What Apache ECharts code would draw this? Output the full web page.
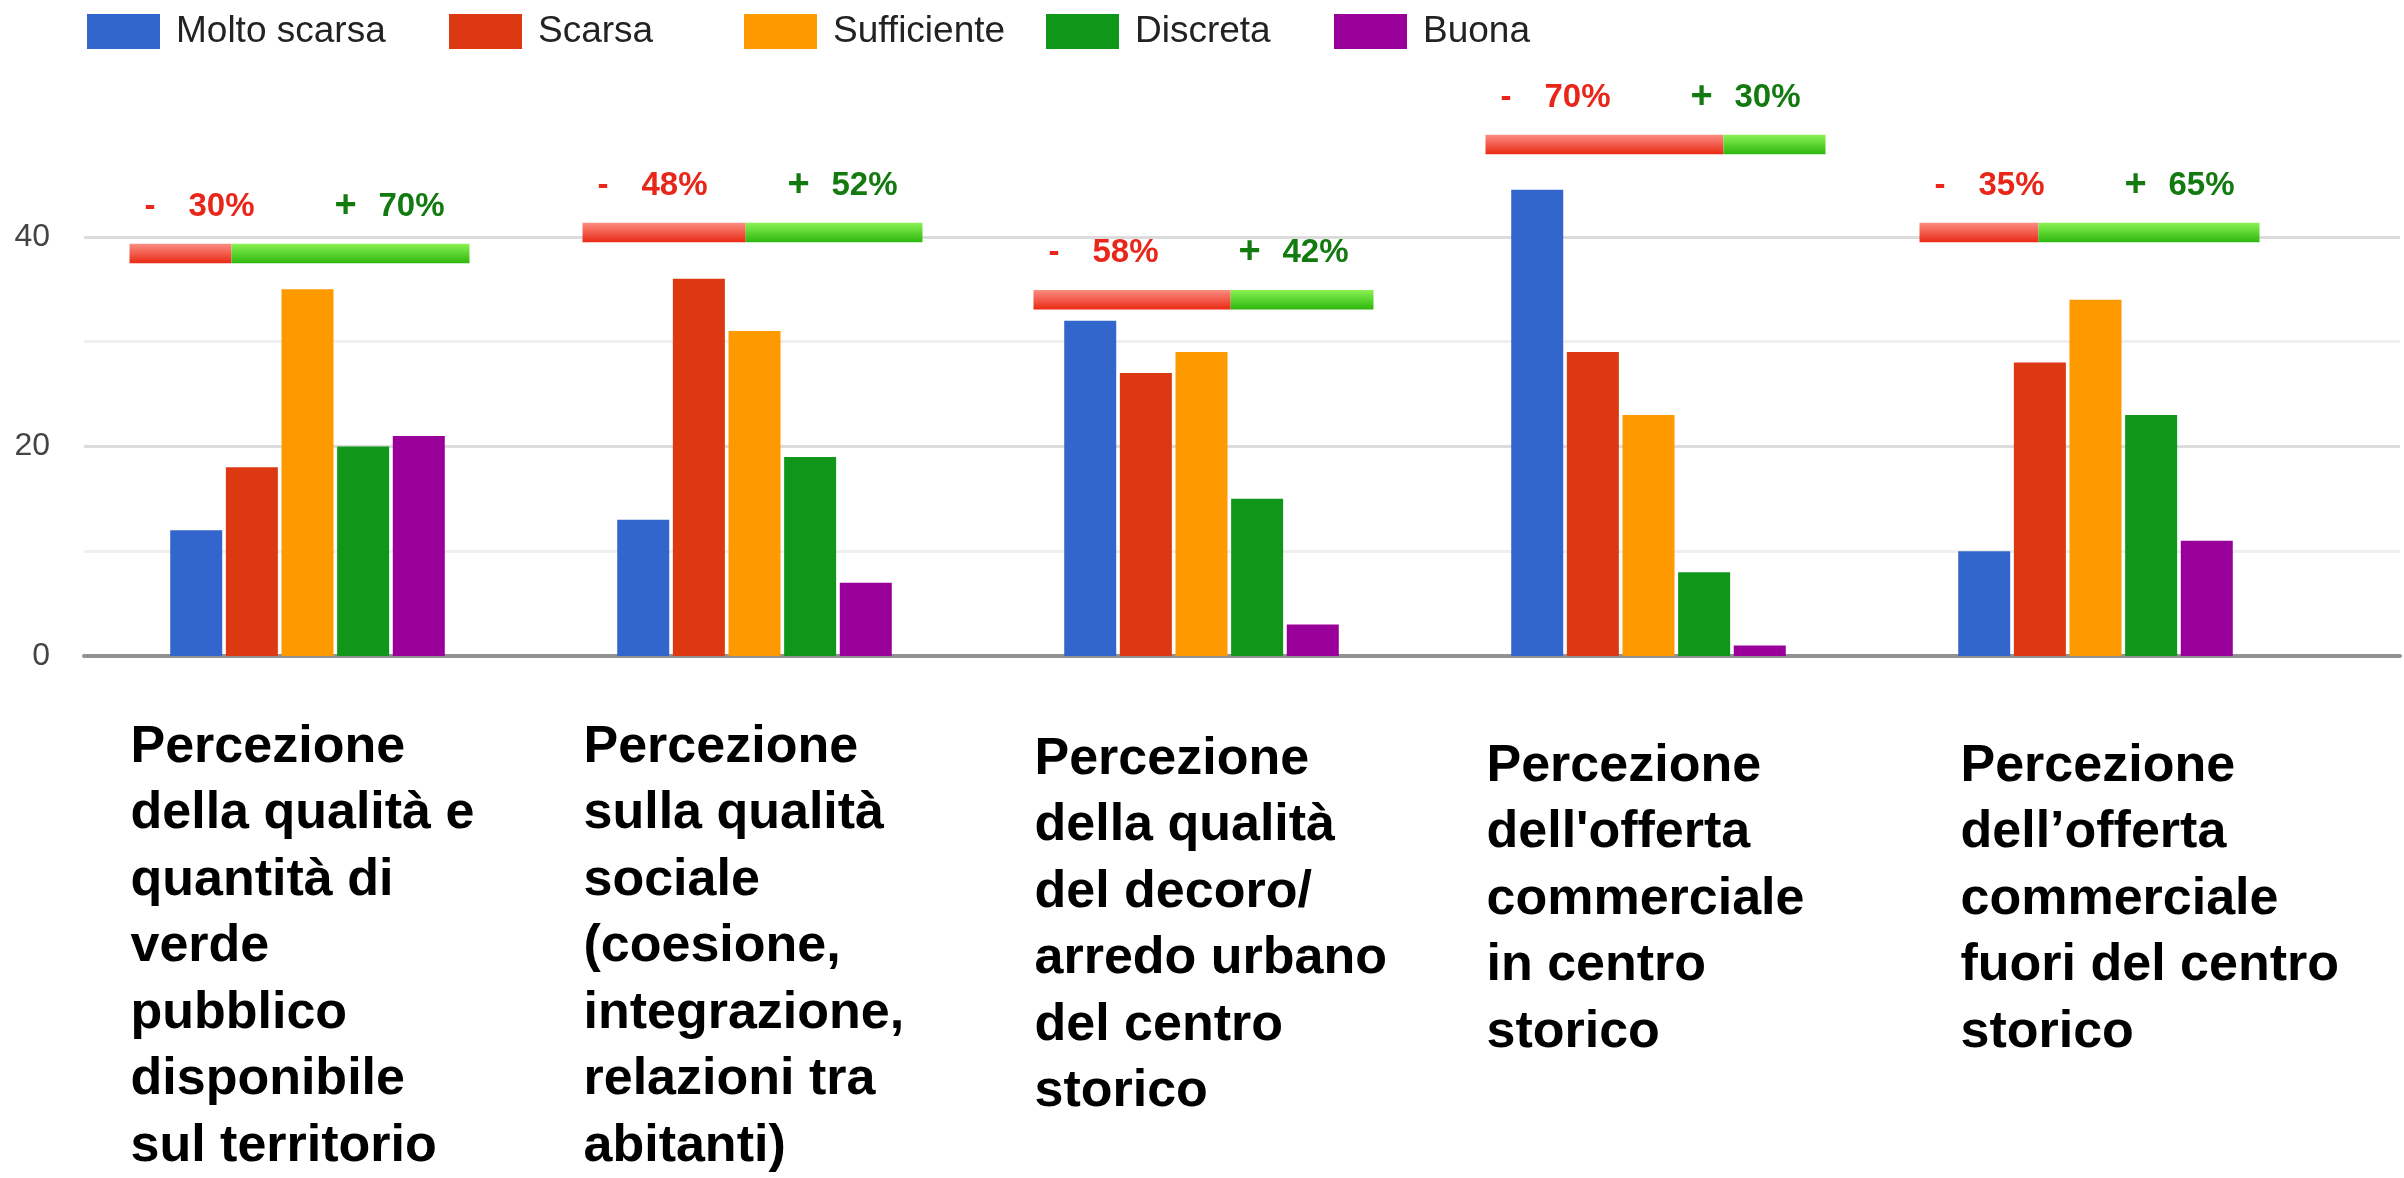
<!DOCTYPE html>
<html>
<head>
<meta charset="utf-8">
<title>Percezione del centro storico</title>
<script src="https://cdn.jsdelivr.net/npm/echarts@6/dist/echarts.min.js"></script>
<style>
  html, body { margin: 0; padding: 0; background: #fff; }
  #chart { width: 2404px; height: 1178px; }
</style>
</head>
<body>
<div id="chart"></div>
<script>
// --- data ---
const categories = [
  'Percezione\ndella qualità e\nquantità di\nverde\npubblico\ndisponibile\nsul territorio',
  'Percezione\nsulla qualità\nsociale\n(coesione,\nintegrazione,\nrelazioni tra\nabitanti)',
  'Percezione\ndella qualità\ndel decoro/\narredo urbano\ndel centro\nstorico',
  'Percezione\ndell\'offerta\ncommerciale\nin centro\nstorico',
  'Percezione\ndell’offerta\ncommerciale\nfuori del centro\nstorico'
]
const seriesNames = ['Molto scarsa', 'Scarsa', 'Sufficiente', 'Discreta', 'Buona']
const moltoScarsa = [12, 13, 32, 44.5, 10]
const scarsa = [18, 36, 27, 29, 28]
const sufficiente = [35, 31, 29, 23, 34]
const discreta = [20, 19, 15, 8, 23]
const buona = [21, 7, 3, 1, 11]
const negativePct = [30, 48, 58, 70, 35]
const positivePct = [70, 52, 42, 30, 65]
const yLabelTicks = [0, 20, 40]

// --- layout (not data) ---
const colors = ['#3366cc', '#dc3912', '#ff9900', '#109618', '#990099']
const legendLeft = [87, 449, 744, 1046, 1334]
const ribbonLevel = [38.4, 40.4, 34.0, 48.8, 40.4] // vertical placement of the -/+ ribbons, axis units
const ribbonShift = [-178, -172, -168, -163, -176]
const labelShift = [177, 171, 167, 162, 135]
const labelDrop = [0, 0, 12, 19, 19]

const RED = '#e8261a'
const GREEN = '#137a10'
const FONT = '"Liberation Sans", Arial, Helvetica, sans-serif'

const values = [moltoScarsa, scarsa, sufficiente, discreta, buona]

const chart = echarts.init(document.getElementById('chart'))

const rich = {}
labelShift.forEach((s, i) => {
    rich['c' + i] = {
        width: s * 2,
        align: 'left',
        fontSize: 52,
        fontWeight: 'bold',
        lineHeight: 66.5,
        color: '#000',
        fontFamily: FONT
    }
})
labelDrop.forEach(d => {
    if (d > 0) rich['sp' + d] = { lineHeight: d, height: d }
})

function renderRibbon(params, api) {
    const i = api.value(0)
    const pt = api.coord([i, api.value(1)])
    const band = api.size([1, 0])[0]
    const w = band * 0.7606
    const h = 19.5
    const neg = api.value(2) / 100
    const x0 = pt[0] + ribbonShift[i]
    const top = pt[1] - h / 2
    const ty = pt[1] - 47
    const font = 'bold 33px ' + FONT
    const redGrad = new echarts.graphic.LinearGradient(0, 0, 0, 1, [
        { offset: 0, color: '#fb8d82' }, { offset: 1, color: '#ea2914' }
    ])
    const greenGrad = new echarts.graphic.LinearGradient(0, 0, 0, 1, [
        { offset: 0, color: '#8af252' }, { offset: 1, color: '#2db70e' }
    ])
    return {
        type: 'group',
        children: [
            { type: 'rect', shape: { x: x0, y: top, width: w * neg, height: h }, style: { fill: redGrad } },
            { type: 'rect', shape: { x: x0 + w * neg, y: top, width: w * (1 - neg), height: h }, style: { fill: greenGrad } },
            { type: 'text', x: x0 + 15, y: ty, style: { text: '-', font: font, fill: RED, verticalAlign: 'middle' } },
            { type: 'text', x: x0 + 59, y: ty, style: { text: api.value(2) + '%', font: font, fill: RED, verticalAlign: 'middle' } },
            { type: 'text', x: x0 + 205, y: ty, style: { text: '+', font: 'bold 38px ' + FONT, fill: GREEN, verticalAlign: 'middle' } },
            { type: 'text', x: x0 + 249, y: ty, style: { text: api.value(3) + '%', font: font, fill: GREEN, verticalAlign: 'middle' } }
        ]
    }
}

chart.setOption({
    animation: false,
    backgroundColor: '#fff',
    legend: seriesNames.map((name, i) => ({
        data: [name],
        left: legendLeft[i],
        top: 13,
        padding: 0,
        itemWidth: 73,
        itemHeight: 35,
        icon: 'rect',
        selectedMode: false,
        textStyle: { fontSize: 37, color: '#222', fontFamily: FONT, padding: [0, 0, 0, 11] }
    })),
    grid: [
        { left: 84, right: 85, top: 132, bottom: 522 },
        { left: 84, right: 4, top: 132, bottom: 522 }
    ],
    xAxis: [{
        type: 'category',
        gridIndex: 0,
        data: categories,
        axisLine: { show: false },
        axisTick: { show: false },
        axisLabel: {
            interval: 0,
            margin: 58,
            rich: rich,
            formatter: (value, idx) => {
                const lines = value.split('\n').map(l => '{c' + idx + '|' + l + '}')
                if (labelDrop[idx] > 0) lines.unshift('{sp' + labelDrop[idx] + '|}')
                return lines.join('\n')
            }
        }
    }, {
        type: 'value',
        gridIndex: 1,
        min: 0,
        max: 1,
        axisLine: { show: true, lineStyle: { color: '#929292', width: 4 } },
        axisTick: { show: false },
        axisLabel: { show: false },
        splitLine: { show: false }
    }],
    yAxis: [{
        type: 'value',
        gridIndex: 0,
        min: 0,
        max: 50,
        interval: 10,
        axisLine: { show: false },
        axisTick: { show: false },
        splitLine: { show: false },
        axisLabel: {
            margin: 34,
            fontSize: 32,
            color: '#444',
            fontFamily: FONT,
            formatter: v => (yLabelTicks.includes(v) ? String(v) : '')
        }
    }, {
        type: 'value',
        gridIndex: 1,
        min: 0,
        max: 50,
        interval: 10,
        axisLine: { show: false },
        axisTick: { show: false },
        axisLabel: { show: false },
        splitLine: {
            show: true,
            lineStyle: {
                width: 3,
                color: ['#cfcfcf', '#efefef', '#dcdcdc', '#efefef', '#dcdcdc', 'rgba(0,0,0,0)']
            }
        }
    }],
    series: seriesNames.map((name, s) => ({
        name: name,
        type: 'bar',
        xAxisIndex: 0,
        yAxisIndex: 0,
        barWidth: 52,
        barGap: '7%',
        itemStyle: { color: colors[s] },
        data: values[s]
    })).concat([{
        type: 'custom',
        xAxisIndex: 0,
        yAxisIndex: 0,
        z: 5,
        renderItem: renderRibbon,
        data: categories.map((c, i) => [i, ribbonLevel[i], negativePct[i], positivePct[i]])
    }])
})
</script>
</body>
</html>
